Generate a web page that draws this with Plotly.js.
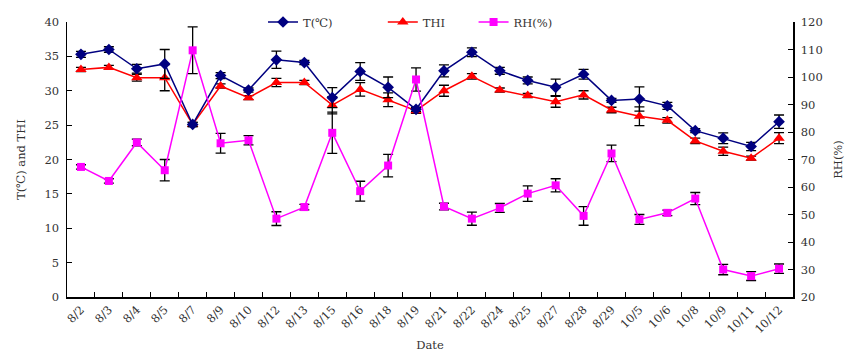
<!DOCTYPE html>
<html>
<head>
<meta charset="utf-8">
<script src="https://cdn.plot.ly/plotly-3.0.1.min.js"></script>
<style>html,body{margin:0;padding:0;background:#fff;}#chart{width:851px;height:356px;}</style>
</head>
<body>
<div id="chart"></div>
<script>
const dates = ["8/2","8/3","8/4","8/5","8/7","8/9","8/10","8/12","8/13","8/15","8/16","8/18","8/19","8/21","8/22","8/24","8/25","8/27","8/28","8/29","10/5","10/6","10/8","10/9","10/11","10/12"];
const tempC = [35.3,36.0,33.2,33.9,25.1,32.2,30.1,34.5,34.1,29.0,32.8,30.5,27.3,32.9,35.6,32.9,31.5,30.5,32.4,28.6,28.8,27.8,24.2,23.1,21.9,25.5];
const tempErr = [0.44,0.4,0.63,2.1,0.3,0.45,0.3,1.26,0.3,1.45,1.3,1.5,0.3,0.87,0.63,0.5,0.5,1.2,0.7,0.3,1.75,0.5,0.3,0.78,0.6,0.97];
const thi = [33.1,33.4,31.9,31.9,25.1,30.7,29.0,31.2,31.2,27.9,30.2,28.7,27.1,30.0,32.1,30.1,29.3,28.4,29.4,27.2,26.3,25.7,22.7,21.2,20.2,23.1];
const thiErr = [0.3,0.3,0.5,1.9,0.3,0.3,0.3,0.6,0.3,1.26,0.97,1.0,0.4,0.8,0.4,0.3,0.3,0.8,0.6,0.4,1.36,0.4,0.4,0.6,0.3,0.8];
const rh = [67.3,62.2,76.2,66.1,109.7,75.9,77.0,48.5,52.7,79.7,58.5,67.8,99.1,52.9,48.5,52.4,57.6,60.6,49.5,72.2,48.2,50.6,55.8,30.0,27.6,30.3];
const rhErr = [0.8,0.8,1.2,3.9,8.5,3.6,1.7,2.5,1.0,7.5,3.6,4.1,4.2,1.2,2.4,1.6,2.8,2.4,3.4,3.0,1.8,1.0,2.2,1.9,1.6,1.7];

const FONT = "DejaVu Serif, Liberation Serif, serif";
const TXT = "#333333";
const FS = 11.5;
function eb(arr){return {type:'data', array:arr, visible:true, color:'#000000', thickness:1.3, width:5};}

const traces = [
  {x:dates, y:rh, name:'RH(%)', type:'scatter', mode:'lines+markers', yaxis:'y2',
   line:{color:'#FF00FF', width:1.5}, marker:{symbol:'square', size:8, color:'#FF00FF'},
   error_y:eb(rhErr), legend:'legend3'},
  {x:dates, y:thi, name:'THI', type:'scatter', mode:'lines+markers',
   line:{color:'#FF0000', width:1.5}, marker:{symbol:'triangle-up', size:10, color:'#FF0000'},
   error_y:eb(thiErr), legend:'legend2'},
  {x:dates, y:tempC, name:'T(℃)', type:'scatter', mode:'lines+markers',
   line:{color:'#000080', width:1.5}, marker:{symbol:'diamond', size:9, color:'#000080'},
   error_y:eb(tempErr), legend:'legend'}
];

const legBase = {orientation:'h', yanchor:'middle', y:1.0, xanchor:'left', bgcolor:'rgba(0,0,0,0)',
  font:{family:FONT, size:FS, color:TXT}, itemwidth:30};

const layout = {
  width:851, height:356,
  margin:{l:67, r:58, t:22, b:59, autoexpand:false},
  paper_bgcolor:'#ffffff', plot_bgcolor:'#ffffff',
  font:{family:FONT, size:FS, color:TXT},
  showlegend:true,
  legend:Object.assign({}, legBase, {x:0.27}),
  legend2:Object.assign({}, legBase, {x:0.435}),
  legend3:Object.assign({}, legBase, {x:0.56}),
  xaxis:{type:'category', range:[-0.5,25.5], tickson:'boundaries', ticks:'inside', ticklen:5,
    tickcolor:'#000', showline:true, linecolor:'#000', linewidth:1.5, showgrid:false, zeroline:false,
    tickangle:-45, tickfont:{family:FONT, size:FS, color:TXT},
    title:{text:'Date', font:{family:FONT, size:FS, color:TXT}, standoff:6}},
  yaxis:{range:[0,40], dtick:5, ticks:'inside', ticklen:5, tickcolor:'#000', showline:true,
    linecolor:'#000', linewidth:1.5, showgrid:false, zeroline:false, ticklabelstandoff:4,
    tickfont:{family:FONT, size:FS, color:TXT},
    title:{text:'T(℃) and THI', font:{family:FONT, size:FS, color:TXT}, standoff:16}},
  yaxis2:{range:[20,120], dtick:10, overlaying:'y', side:'right', ticks:'inside', ticklen:5,
    tickcolor:'#000', showline:true, linecolor:'#000', linewidth:1.5, showgrid:false, zeroline:false,
    ticklabelstandoff:4,
    tickfont:{family:FONT, size:FS, color:TXT},
    title:{text:'RH(%)', font:{family:FONT, size:FS, color:TXT}, standoff:12}}
};

Plotly.newPlot('chart', traces, layout, {displayModeBar:false, staticPlot:true});
</script>
</body>
</html>
